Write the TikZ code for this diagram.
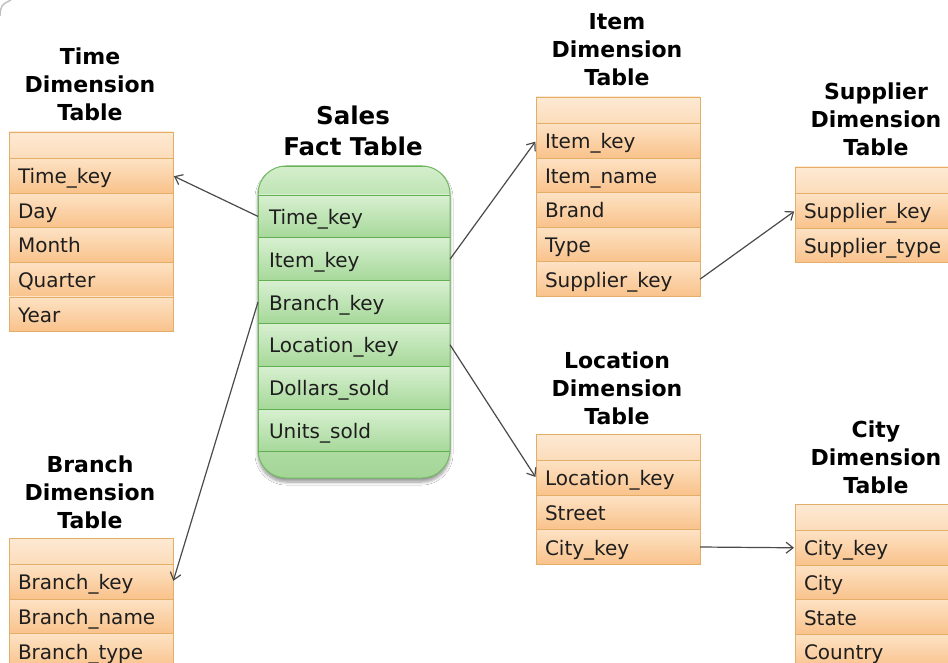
\documentclass[tikz,border=0pt]{standalone}
\usepackage{fontspec}
\setmainfont{DejaVu Sans}
\usetikzlibrary{arrows.meta,shadows.blur}

% palette
\definecolor{otop}{HTML}{FDE2C4}
\definecolor{obot}{HTML}{F9C28B}
\definecolor{ohtop}{HTML}{FDE9D4}
\definecolor{ohbot}{HTML}{FCDCBA}
\definecolor{oline}{HTML}{E5AE68}
\definecolor{gtop}{HTML}{D8F0D1}
\definecolor{gbot}{HTML}{A6D899}
\definecolor{ghtop}{HTML}{D4EECC}
\definecolor{ghbot}{HTML}{BFE4B4}
\definecolor{gfoot}{HTML}{A2D595}
\definecolor{gline}{HTML}{62AE52}
\definecolor{gedge}{HTML}{72B862}
\definecolor{linkc}{HTML}{4A4A4A}
\definecolor{txt}{HTML}{1E1E1E}

\tikzset{
  cell/.style={anchor=north west, outer sep=0pt, inner ysep=0pt, align=left,
    text=txt, font=\fontsize{20}{24}\selectfont, text height=19pt,
    text depth=3pt, line width=0.8pt},
  orow/.style={cell, draw=oline, top color=otop, bottom color=obot,
    inner xsep=9pt, text width=146pt, minimum height=34.6pt},
  ohead/.style={orow, top color=ohtop, bottom color=ohbot, minimum height=26.5pt},
  factrow/.style={cell, draw=gline, top color=gtop, bottom color=gbot,
    inner xsep=11pt, text width=170pt, minimum height=42.8pt},
  facthead/.style={factrow, top color=ghtop, bottom color=ghbot, minimum height=29pt},
  factfoot/.style={factrow, top color=gfoot!80!gtop, bottom color=gfoot, minimum height=30pt},
  title/.style={align=center, inner sep=0pt, text=black,
    font=\bfseries\fontsize{22}{28}\selectfont},
  bigtitle/.style={title, font=\bfseries\fontsize{24.5}{31}\selectfont},
  link/.style={draw=linkc, line width=1.2pt, shorten >=1pt,
    -{Straight Barb[length=7pt,width=11pt,line width=1.2pt]}},
}

\begin{document}
\begin{tikzpicture}[x=1pt, y=-1pt]
\useasboundingbox (0,0) rectangle (948,663);
\clip (0,0) rectangle (948,663);
\fill[white] (0,0) rectangle (948,663);
\draw[black!25, line width=1.4pt] (0,16) .. controls (1,5) .. (11,0);

% ---------- Time dimension ----------
\node[title] (ttl) at (90,84) {Time\\Dimension\\Table};
\node[ohead] (t0) at (9,132) {};
\node[orow] (t1) at (t0.south west) {Time\_key};
\node[orow] (t2) at (t1.south west) {Day};
\node[orow] (t3) at (t2.south west) {Month};
\node[orow] (t4) at (t3.south west) {Quarter};
\node[orow] (t5) at (t4.south west) {Year};

% ---------- Branch dimension ----------
\node[title] (btl) at (90,492) {Branch\\Dimension\\Table};
\node[ohead] (b0) at (9,538) {};
\node[orow] (b1) at (b0.south west) {Branch\_key};
\node[orow] (b2) at (b1.south west) {Branch\_name};
\node[orow] (b3) at (b2.south west) {Branch\_type};

% ---------- Item dimension ----------
\node[title] (itl) at (617,50) {Item\\Dimension\\Table};
\node[ohead] (i0) at (536,97) {};
\node[orow] (i1) at (i0.south west) {Item\_key};
\node[orow] (i2) at (i1.south west) {Item\_name};
\node[orow] (i3) at (i2.south west) {Brand};
\node[orow] (i4) at (i3.south west) {Type};
\node[orow] (i5) at (i4.south west) {Supplier\_key};

% ---------- Supplier dimension ----------
\node[title] (stl) at (876,119) {Supplier\\Dimension\\Table};
\node[ohead] (s0) at (795,167) {};
\node[orow] (s1) at (s0.south west) {Supplier\_key};
\node[orow] (s2) at (s1.south west) {Supplier\_type};

% ---------- Location dimension ----------
\node[title] (ltl) at (617,388) {Location\\Dimension\\Table};
\node[ohead] (l0) at (536,434) {};
\node[orow] (l1) at (l0.south west) {Location\_key};
\node[orow] (l2) at (l1.south west) {Street};
\node[orow] (l3) at (l2.south west) {City\_key};

% ---------- City dimension ----------
\node[title] (ctl) at (876,457) {City\\Dimension\\Table};
\node[ohead] (c0) at (795,504) {};
\node[orow] (c1) at (c0.south west) {City\_key};
\node[orow] (c2) at (c1.south west) {City};
\node[orow] (c3) at (c2.south west) {State};
\node[orow] (c4) at (c3.south west) {Country};

% ---------- Sales fact table ----------
\node[bigtitle] (ftl) at (353,131) {Sales\\Fact Table};
\path[fill=gfoot, rounded corners=28pt,
  blur shadow={shadow xshift=0pt, shadow yshift=-4pt, shadow blur steps=8,
    shadow blur radius=3pt, shadow opacity=40}]
  (258,166) rectangle (450,478);
\begin{scope}
  \clip[rounded corners=28pt] (258,166) rectangle (450,478);
  \node[facthead] (f0) at (258,166) {};
  \node[factrow] (f1) at (f0.south west) {Time\_key};
  \node[factrow] (f2) at (f1.south west) {Item\_key};
  \node[factrow] (f3) at (f2.south west) {Branch\_key};
  \node[factrow] (f4) at (f3.south west) {Location\_key};
  \node[factrow] (f5) at (f4.south west) {Dollars\_sold};
  \node[factrow] (f6) at (f5.south west) {Units\_sold};
  \node[factfoot] (f7) at (f6.south west) {};
\end{scope}
\draw[gedge, line width=1pt, rounded corners=28pt] (258,166) rectangle (450,478);

% ---------- connectors ----------
\draw[link] (f1.west) -- (t1.east);
\draw[link] (f3.west) -- (b1.east);
\draw[link] (f2.east) -- (i1.west);
\draw[link] (f4.east) -- (l1.west);
\draw[link] (i5.east) -- (s1.west);
\draw[link] (l3.east) -- (c1.west);
\end{tikzpicture}
\end{document}
